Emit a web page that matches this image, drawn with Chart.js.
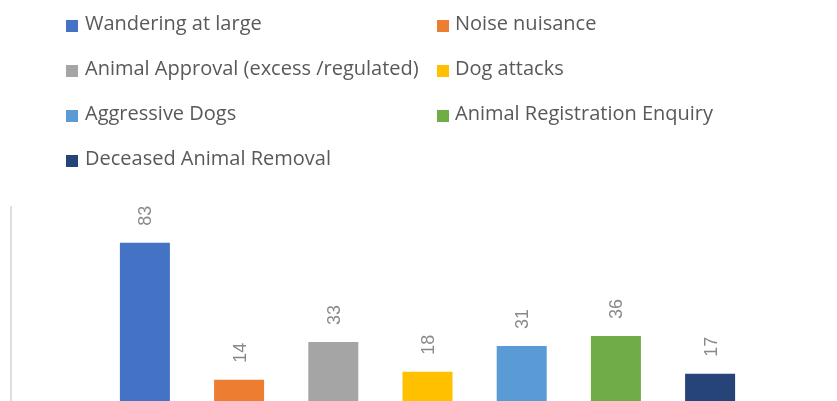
<!DOCTYPE html>
<html>
<head>
<meta charset="utf-8">
<script src="https://cdn.jsdelivr.net/npm/chart.js@4/dist/chart.umd.min.js"></script>
<style>
  html, body { margin: 0; padding: 0; background: #fff; width: 837px; height: 401px; overflow: hidden; }
  #wrap { position: relative; width: 837px; height: 401px; overflow: hidden; }
  #chart { position: absolute; left: 0; top: 0; }
  .key { position: absolute; width: 12px; height: 12px; }
  .lbl { position: absolute; font-family: "Open Sans", sans-serif; font-size: 20px; line-height: 24px;
         color: #595959; white-space: nowrap; }
</style>
</head>
<body>
<div id="wrap">
  <canvas id="chart" width="846" height="410"></canvas>
  <div id="legend"></div>
</div>
<script>
// Complaint / request types and their counts
const seriesNames = [
  "Wandering at large",
  "Noise nuisance",
  "Animal Approval (excess /regulated)",
  "Dog attacks",
  "Aggressive Dogs",
  "Animal Registration Enquiry",
  "Deceased Animal Removal"
];
const seriesValues = [83, 14, 33, 18, 31, 36, 17];
const seriesColors = ["#4472C4", "#ED7D31", "#A5A5A5", "#FFC000", "#5B9BD5", "#70AD47", "#264478"];
const categories = [""];

// Legend: two columns, row-major order
const legendEl = document.getElementById("legend");
const colKeyX = [66, 437];
const colTextX = [85, 455];
const rowTop = [11, 56, 101, 146];
seriesNames.forEach((name, i) => {
  const col = i % 2, row = Math.floor(i / 2);
  const key = document.createElement("div");
  key.className = "key";
  key.style.left = colKeyX[col] + "px";
  key.style.top = (rowTop[row] + 9) + "px";
  key.style.background = seriesColors[i];
  legendEl.appendChild(key);
  const lbl = document.createElement("div");
  lbl.className = "lbl";
  lbl.style.left = colTextX[col] + "px";
  lbl.style.top = rowTop[row] + "px";
  lbl.textContent = name;
  legendEl.appendChild(lbl);
});

// Value labels drawn vertically above each bar
const valueLabels = {
  id: "valueLabels",
  afterDatasetsDraw(chart) {
    const ctx = chart.ctx;
    ctx.save();
    ctx.font = '18px "Liberation Sans", Arial, sans-serif';
    ctx.fillStyle = "#898989";
    ctx.textAlign = "left";
    ctx.textBaseline = "alphabetic";
    chart.data.datasets.forEach((ds, i) => {
      const bar = chart.getDatasetMeta(i).data[0];
      if (!bar) return;
      const capH = 18 * 0.716;
      ctx.save();
      ctx.translate(bar.x, bar.y - 17);
      ctx.rotate(-Math.PI / 2);
      ctx.fillText(String(ds.data[0]), 0, capH / 2);
      ctx.restore();
    });
    ctx.restore();
  }
};

new Chart(document.getElementById("chart"), {
  type: "bar",
  data: {
    labels: categories,
    datasets: seriesNames.map((name, i) => ({
      label: name,
      data: [seriesValues[i]],
      backgroundColor: seriesColors[i],
      borderWidth: 0,
      categoryPercentage: 0.7916,
      barPercentage: 0.531
    }))
  },
  options: {
    responsive: false,
    animation: false,
    layout: { padding: { left: 11, right: 2, top: 207, bottom: 2.5 } },
    plugins: { legend: { display: false }, tooltip: { enabled: false } },
    scales: {
      x: { display: false },
      y: {
        min: 0,
        max: 101,
        ticks: { display: false },
        grid: { display: false, drawTicks: false },
        border: { display: true, color: "#dedede", width: 2 }
      }
    }
  },
  plugins: [valueLabels]
});
</script>
</body>
</html>
